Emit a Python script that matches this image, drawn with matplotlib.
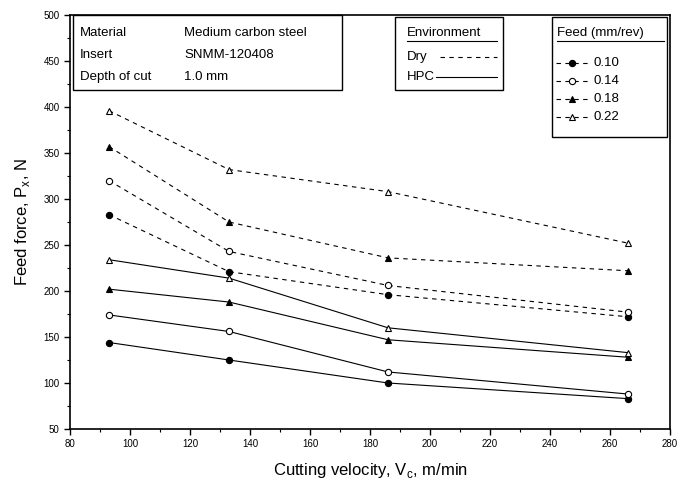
import matplotlib
matplotlib.use("Agg")
import matplotlib.pyplot as plt
from matplotlib.lines import Line2D
from matplotlib.patches import Rectangle
from matplotlib.ticker import MultipleLocator

plt.rcParams['font.family'] = ['Liberation Sans', 'DejaVu Sans']

# ---- data ----
velocity = [93, 133, 186, 266]
feeds = ["0.10", "0.14", "0.18", "0.22"]
dry_010 = [283, 221, 196, 172]
dry_014 = [320, 243, 206, 177]
dry_018 = [357, 275, 236, 222]
dry_022 = [396, 332, 308, 252]
hpc_010 = [144, 125, 100, 83]
hpc_014 = [174, 156, 112, 88]
hpc_018 = [202, 188, 147, 128]
hpc_022 = [234, 214, 160, 133]

dry = [dry_010, dry_014, dry_018, dry_022]
hpc = [hpc_010, hpc_014, hpc_018, hpc_022]
markers = [('o', 'black'), ('o', 'white'), ('^', 'black'), ('^', 'white')]

fig = plt.figure(figsize=(6.83, 4.94), dpi=100)
ax = fig.add_axes([70/683, 1-429/494, 600/683, 414/494])

for vals, (m, fc) in zip(dry, markers):
    ax.plot(velocity, vals, linestyle=(0, (4, 4)), color='black', lw=0.8,
            marker=m, markersize=4.5, markerfacecolor=fc, markeredgecolor='black', markeredgewidth=0.8)
for vals, (m, fc) in zip(hpc, markers):
    ax.plot(velocity, vals, linestyle='-', color='black', lw=0.8,
            marker=m, markersize=4.5, markerfacecolor=fc, markeredgecolor='black', markeredgewidth=0.8)

ax.set_xlim(80, 280)
ax.set_ylim(50, 500)
ax.xaxis.set_major_locator(MultipleLocator(20))
ax.xaxis.set_minor_locator(MultipleLocator(10))
ax.yaxis.set_major_locator(MultipleLocator(50))
ax.yaxis.set_minor_locator(MultipleLocator(25))
ax.tick_params(which='major', direction='out', length=4, width=1, labelsize=7)
ax.tick_params(which='minor', direction='out', length=2.5, width=0.8)
for s in ax.spines.values():
    s.set_linewidth(1.2)

ax.set_xlabel(r"Cutting velocity, V$_\mathregular{c}$, m/min", fontsize=12, labelpad=8)
ax.set_ylabel(r"Feed force, P$_\mathregular{x}$, N", fontsize=12, labelpad=8)

# ---- info box (top-left) ----
def px(x):
    return (x - 70) / 600
def py(y):
    return (429 - y) / 414

T = ax.transAxes
ax.add_patch(Rectangle((px(73), py(90)), px(342) - px(73), py(15) - py(90),
                       transform=T, fill=False, lw=1.0, ec='black', clip_on=False))
info_left = ["Material", "Insert", "Depth of cut"]
info_right = ["Medium carbon steel", "SNMM-120408", "1.0 mm"]
for i, (a, b) in enumerate(zip(info_left, info_right)):
    yy = py(33 + i * 22)
    ax.text(px(80), yy, a, transform=T, fontsize=9.5, va='center', ha='left')
    ax.text(px(184), yy, b, transform=T, fontsize=9.5, va='center', ha='left')

# ---- environment box ----
ax.add_patch(Rectangle((px(395), py(90)), px(503) - px(395), py(17) - py(90),
                       transform=T, fill=False, lw=1.0, ec='black', clip_on=False))
ax.text(px(407), py(33), "Environment", transform=T, fontsize=9.5, va='center', ha='left')
ax.add_line(Line2D([px(407), px(497)], [py(41), py(41)], transform=T, color='black', lw=0.8))
ax.text(px(407), py(57), "Dry", transform=T, fontsize=9.5, va='center', ha='left')
ax.add_line(Line2D([px(440), px(497)], [py(57), py(57)], transform=T, color='black', lw=0.8,
                   linestyle=(0, (4, 4))))
ax.text(px(407), py(77), "HPC", transform=T, fontsize=9.5, va='center', ha='left')
ax.add_line(Line2D([px(436), px(497)], [py(77), py(77)], transform=T, color='black', lw=0.8))

# ---- feed box ----
ax.add_patch(Rectangle((px(552), py(137)), px(667) - px(552), py(17) - py(137),
                       transform=T, fill=False, lw=1.0, ec='black', clip_on=False))
ax.text(px(557), py(33), "Feed (mm/rev)", transform=T, fontsize=9.5, va='center', ha='left')
ax.add_line(Line2D([px(557), px(664)], [py(41), py(41)], transform=T, color='black', lw=0.8))
for i, (f, (m, fc)) in enumerate(zip(feeds, markers)):
    yy = py(63 + i * 18)
    ax.add_line(Line2D([px(556), px(588)], [yy, yy], transform=T, color='black', lw=0.8,
                       linestyle=(0, (4, 4))))
    ax.add_line(Line2D([px(572)], [yy], transform=T, marker=m, markersize=4.5,
                       markerfacecolor=fc, markeredgecolor='black', markeredgewidth=0.8, linestyle='none'))
    ax.text(px(593), yy, f, transform=T, fontsize=9.5, va='center', ha='left')

fig.savefig("out.png", dpi=100)
